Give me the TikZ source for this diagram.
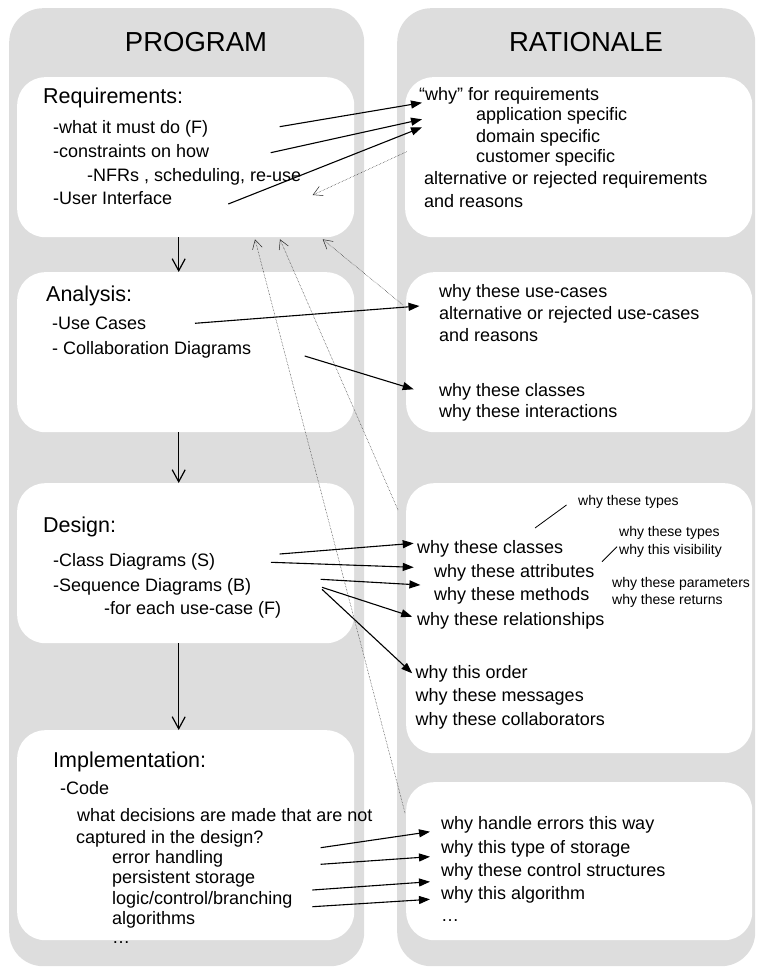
\documentclass[tikz,border=0pt]{standalone}
\usepackage{fontspec}
\setmainfont{Liberation Sans}
\usetikzlibrary{arrows.meta}
\definecolor{panelgray}{RGB}{221,221,221}
\begin{document}
\begin{tikzpicture}[x=1pt,y=-1pt,
  panel/.style={fill=panelgray, draw=none, rounded corners=34pt, anchor=north west, inner sep=0pt},
  card/.style={fill=white, draw=none, rounded corners=28pt, anchor=north west, inner sep=0pt},
  title/.style={anchor=base, inner sep=0pt, font=\fontsize{27.5}{32}\selectfont},
  head/.style={anchor=base west, inner sep=0pt, font=\fontsize{21.5}{25}\selectfont},
  txt/.style={anchor=base west, inner sep=0pt, font=\fontsize{18}{21}\selectfont},
  small/.style={anchor=base west, inner sep=0pt, font=\fontsize{14}{16}\selectfont},
  link/.style={line width=1.1pt, -{Triangle[length=11pt,width=8pt]}},
  flow/.style={line width=1.2pt, -{Straight Barb[length=12pt,width=13pt]}},
  trace/.style={densely dotted, line width=0.5pt, draw=black!85, -{Straight Barb[length=9pt,width=10pt]}},
  tick/.style={line width=0.8pt}
]
\useasboundingbox (0,0) rectangle (756,973);

% columns
\node[panel, minimum width=355pt, minimum height=958pt] (progPanel) at (9,8) {};
\node[panel, minimum width=358pt, minimum height=958pt] (ratPanel) at (397,8) {};
\node[title] (progTitle) at (196,52) {PROGRAM};
\node[title] (ratTitle) at (586,52) {RATIONALE};

% stage cards
\node[card, minimum width=337pt, minimum height=160pt] (reqL) at (17,77) {};
\node[card, minimum width=347pt, minimum height=160pt] (reqR) at (405,77) {};
\node[card, minimum width=337pt, minimum height=160pt] (anaL) at (17,272) {};
\node[card, minimum width=346pt, minimum height=160pt] (anaR) at (406,272) {};
\node[card, minimum width=337pt, minimum height=160pt] (desL) at (17,483) {};
\node[card, minimum width=346pt, minimum height=270pt] (desR) at (406,483) {};
\node[card, minimum width=337pt, minimum height=210pt] (impL) at (17,730) {};
\node[card, minimum width=346pt, minimum height=158pt] (impR) at (406,782) {};

% requirements
\node[head] (reqHead) at (43,104) {Requirements:};
\node[txt] (reqWhat) at (53,134) {-what it must do (F)};
\node[txt] (reqCons) at (53,158) {-constraints on how};
\node[txt] (reqNfr) at (87,182) {-NFRs , scheduling, re-use};
\node[txt] (reqUi) at (53,205) {-User Interface};

\node[txt] (whyReq) at (419,101) {“why” for requirements};
\node[txt] (whyApp) at (476,121) {application specific};
\node[txt] (whyDom) at (476,143) {domain specific};
\node[txt] (whyCust) at (476,163) {customer specific};
\node[txt] (whyAlt) at (424,185) {alternative or rejected requirements};
\node[txt] (whyAltR) at (424,208) {and reasons};

% analysis
\node[head] (anaHead) at (46,301) {Analysis:};
\node[txt] (anaUse) at (52,329.5) {-Use Cases};
\node[txt] (anaCol) at (52,354.5) {- Collaboration Diagrams};

\node[txt] (whyUse) at (439,298) {why these use-cases};
\node[txt] (whyUseAlt) at (439,319.5) {alternative or rejected use-cases};
\node[txt] (whyUseR) at (439,341) {and reasons};
\node[txt] (whyAnaCls) at (439,396) {why these classes};
\node[txt] (whyInter) at (439,417) {why these interactions};

% design
\node[head] (desHead) at (43,532.5) {Design:};
\node[txt] (desCls) at (53,566.5) {-Class Diagrams (S)};
\node[txt] (desSeq) at (53,591.5) {-Sequence Diagrams (B)};
\node[txt] (desUc) at (104,614.8) {-for each use-case (F)};

\node[txt] (whyCls) at (417,553) {why these classes};
\node[txt] (whyAttr) at (434,577) {why these attributes};
\node[txt] (whyMeth) at (434,600.5) {why these methods};
\node[txt] (whyRel) at (417,625) {why these relationships};
\node[txt] (whyOrd) at (415.5,678) {why this order};
\node[txt] (whyMsg) at (415.5,701.5) {why these messages};
\node[txt] (whyCollab) at (415.5,725) {why these collaborators};

\node[small] (typesA) at (578,505) {why these types};
\node[small] (typesB) at (619,536.5) {why these types};
\node[small] (visib) at (619,554) {why this visibility};
\node[small] (params) at (612,587.5) {why these parameters};
\node[small] (rets) at (612,604) {why these returns};

% implementation
\node[head] (impHead) at (53,767.5) {Implementation:};
\node[txt] (impCode) at (60,794.8) {-Code};
\node[txt] (impQ1) at (77,821.5) {what decisions are made that are not};
\node[txt] (impQ2) at (76,843) {captured in the design?};
\node[txt] (impErr) at (112,863) {error handling};
\node[txt] (impStore) at (112,883) {persistent storage};
\node[txt] (impLogic) at (112,904.8) {logic/control/branching};
\node[txt] (impAlgo) at (112,924.8) {algorithms};
\node[txt] (impMore) at (112,943) {…};

\node[txt] (whyErr) at (441,829.5) {why handle errors this way};
\node[txt] (whyStore) at (441,853) {why this type of storage};
\node[txt] (whyCtrl) at (441,876.5) {why these control structures};
\node[txt] (whyAlgo) at (441,899.8) {why this algorithm};
\node[txt] (whyMore) at (441,921) {…};

% stage flow
\draw[flow] ([xshift=-7pt]reqL.south) -- ([xshift=-7pt]anaL.north);
\draw[flow] ([xshift=-7pt]anaL.south) -- ([xshift=-7pt]desL.north);
\draw[flow] ([xshift=-7pt]desL.south) -- ([xshift=-7pt]impL.north);

% link end points
\coordinate (rqA0) at (279.6,126.7); \coordinate (rqA1) at (422,102.7);
\coordinate (rqB0) at (270.7,152.7); \coordinate (rqB1) at (422,119.3);
\coordinate (rqC0) at (228.3,204);   \coordinate (rqC1) at (422,127.3);
\coordinate (anA0) at (195,323.3);   \coordinate (anA1) at (419.5,306);
\coordinate (anB0) at (304.7,356);   \coordinate (anB1) at (413.7,389.3);
\coordinate (dsA0) at (279.7,554);   \coordinate (dsA1) at (413.7,543.3);
\coordinate (dsB0) at (271,562.3);   \coordinate (dsB1) at (413.7,567.3);
\coordinate (dsC0) at (320.6,579.3); \coordinate (dsC1) at (420.4,585);
\coordinate (dsD0) at (322,587.3);   \coordinate (dsD1) at (412.2,616.7);
\coordinate (dsE0) at (322,589.3);   \coordinate (dsE1) at (412.2,673.3);
\coordinate (imA0) at (320.6,847.7); \coordinate (imA1) at (430,831.7);
\coordinate (imB0) at (320.6,864.3); \coordinate (imB1) at (430,856.7);
\coordinate (imC0) at (312.4,890);   \coordinate (imC1) at (430,881.7);
\coordinate (imD0) at (312.4,906.7); \coordinate (imD1) at (430,899.3);

\draw[link] (rqA0) -- (rqA1);
\draw[link] (rqB0) -- (rqB1);
\draw[link] (rqC0) -- (rqC1);
\draw[link] (anA0) -- (anA1);
\draw[link] (anB0) -- (anB1);
\draw[link] (dsA0) -- (dsA1);
\draw[link] (dsB0) -- (dsB1);
\draw[link] (dsC0) -- (dsC1);
\draw[link] (dsD0) -- (dsD1);
\draw[link] (dsE0) -- (dsE1);
\draw[link] (imA0) -- (imA1);
\draw[link] (imB0) -- (imB1);
\draw[link] (imC0) -- (imC1);
\draw[link] (imD0) -- (imD1);

% feedback traces into the requirements
\coordinate (fbReq0) at (406.7,151.7); \coordinate (fbReq1) at (312.7,195);
\coordinate (fbAna0) at (403,305);     \coordinate (fbAna1) at (322.7,239.3);
\coordinate (fbDes0) at (398,510);     \coordinate (fbDes1) at (280,239.3);
\coordinate (fbImp0) at (405,813);     \coordinate (fbImp1) at (255,239.3);
\draw[trace] (fbReq0) -- (fbReq1);
\draw[trace] (fbAna0) -- (fbAna1);
\draw[trace] (fbDes0) -- (fbDes1);
\draw[trace] (fbImp0) -- (fbImp1);

% detail ticks
\coordinate (tkA0) at (535,528); \coordinate (tkA1) at (566.5,505);
\coordinate (tkB0) at (602,561.7); \coordinate (tkB1) at (617,546.7);
\draw[tick] (tkA0) -- (tkA1);
\draw[tick] (tkB0) -- (tkB1);
\end{tikzpicture}
\end{document}
